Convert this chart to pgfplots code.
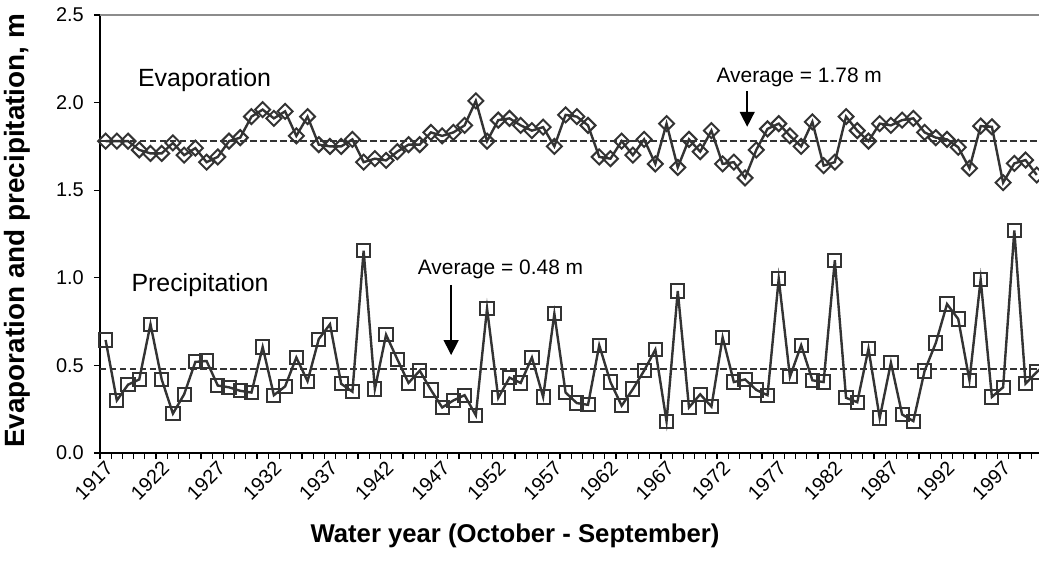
\documentclass[border=0pt]{standalone}
\usepackage{fontspec}
\setmainfont{Liberation Sans}
\usepackage{pgfplots}
\usepackage{pgfplotstable}
\pgfplotsset{compat=1.18}
\usetikzlibrary{arrows.meta}
\definecolor{ser}{HTML}{333333}
\definecolor{frame}{HTML}{8C8C8C}

\pgfplotstableread{
year evap
1917 1.78
1918 1.78
1919 1.78
1920 1.73
1921 1.71
1922 1.71
1923 1.77
1924 1.70
1925 1.74
1926 1.66
1927 1.69
1928 1.78
1929 1.80
1930 1.92
1931 1.96
1932 1.91
1933 1.95
1934 1.81
1935 1.92
1936 1.76
1937 1.75
1938 1.75
1939 1.79
1940 1.66
1941 1.68
1942 1.67
1943 1.72
1944 1.76
1945 1.76
1946 1.83
1947 1.81
1948 1.83
1949 1.87
1950 2.01
1951 1.78
1952 1.90
1953 1.91
1954 1.87
1955 1.84
1956 1.86
1957 1.75
1958 1.93
1959 1.92
1960 1.87
1961 1.69
1962 1.68
1963 1.78
1964 1.70
1965 1.79
1966 1.65
1967 1.88
1968 1.63
1969 1.79
1970 1.72
1971 1.84
1972 1.65
1973 1.66
1974 1.57
1975 1.73
1976 1.85
1977 1.88
1978 1.81
1979 1.75
1980 1.89
1981 1.64
1982 1.66
1983 1.92
1984 1.84
1985 1.78
1986 1.88
1987 1.87
1988 1.90
1989 1.91
1990 1.83
1991 1.80
1992 1.79
1993 1.745
1994 1.625
1995 1.866
1996 1.862
1997 1.543
1998 1.653
1999 1.672
2000 1.587
}\evaptable

\pgfplotstableread{
year precip
1917 0.645
1918 0.30
1919 0.39
1920 0.42
1921 0.735
1922 0.42
1923 0.225
1924 0.335
1925 0.52
1926 0.525
1927 0.385
1928 0.375
1929 0.355
1930 0.345
1931 0.605
1932 0.33
1933 0.38
1934 0.545
1935 0.41
1936 0.65
1937 0.735
1938 0.395
1939 0.35
1940 1.155
1941 0.365
1942 0.675
1943 0.535
1944 0.40
1945 0.47
1946 0.36
1947 0.26
1948 0.30
1949 0.33
1950 0.215
1951 0.825
1952 0.315
1953 0.43
1954 0.40
1955 0.545
1956 0.32
1957 0.795
1958 0.345
1959 0.285
1960 0.275
1961 0.615
1962 0.405
1963 0.27
1964 0.365
1965 0.47
1966 0.59
1967 0.18
1968 0.925
1969 0.26
1970 0.335
1971 0.265
1972 0.66
1973 0.405
1974 0.42
1975 0.36
1976 0.33
1977 0.995
1978 0.435
1979 0.615
1980 0.415
1981 0.405
1982 1.10
1983 0.315
1984 0.29
1985 0.595
1986 0.200
1987 0.515
1988 0.220
1989 0.182
1990 0.468
1991 0.628
1992 0.85
1993 0.765
1994 0.415
1995 0.99
1996 0.320
1997 0.375
1998 1.27
1999 0.396
2000 0.462
2001 0.52
}\preciptable

\begin{document}
\begin{tikzpicture}
\begin{axis}[
  at={(0,0)}, anchor=south west,
  scale only axis, width=939bp, height=438bp,
  xmin=1916.5, xmax=2000.2, ymin=0, ymax=2.5,
  axis x line*=bottom, axis y line*=left,
  axis line style={black, line width=1.5bp, -},
  tick align=outside,
  xtick={1917,1922,...,1997},
  minor xtick={1916.5,1917.5,...,2000.5},
  ytick={0,0.5,...,2.5},
  minor ytick={0,0.5,...,2.5},
  major tick length=0pt, minor tick length=6bp,
  tick style={black, line width=1.2bp},
  tick label style={font=\fontsize{20}{24}\selectfont},
  /pgf/number format/assume math mode=true,
  x tick label style={/pgf/number format/1000 sep={}, xshift=4bp, yshift=-12bp, rotate=45, anchor=east, inner sep=0pt},
  y tick label style={/pgf/number format/fixed, /pgf/number format/fixed zerofill, /pgf/number format/precision=1, anchor=east, inner sep=0pt, xshift=-16bp},
  xlabel={Water year (October - September)},
  ylabel={Evaporation and precipitation, m},
  xlabel style={font=\bfseries\fontsize{25.8}{30}\selectfont, at={(axis description cs:0.442,-0.2032)}, anchor=base},
  ylabel style={font=\bfseries\fontsize{28}{32}\selectfont, at={(axis description cs:-0.0799,0.507)}, anchor=base},
]
\addplot[ser, line width=1.8bp, dash pattern=on 6.5bp off 3.5bp] coordinates {(1916.5,1.78) (2000.2,1.78)};
\addplot[ser, line width=1.8bp, dash pattern=on 6.5bp off 3.5bp] coordinates {(1916.5,0.48) (2000.2,0.48)};
\addplot[ser, line width=2.4bp, mark=square, mark size=5.3bp, mark options={solid, rotate=45, fill=white, line width=2bp}] table[x=year, y=evap] {\evaptable};
\addplot[ser, line width=2.4bp, mark=square, mark size=6.6bp, mark options={solid, fill=white, line width=2bp}] table[x=year, y=precip] {\preciptable};

\node[font=\fontsize{25}{30}\selectfont, anchor=base] at (axis cs:1925.82,2.094) {Evaporation};
\node[font=\fontsize{25}{30}\selectfont, anchor=base] at (axis cs:1925.42,0.919) {Precipitation};
\node[font=\fontsize{21}{25}\selectfont, anchor=base] at (axis cs:1978.83,2.112) {Average = 1.78 m};
\node[font=\fontsize{21}{25}\selectfont, anchor=base] at (axis cs:1952.2,1.016) {Average = 0.48 m};
\draw[black, line width=1.5bp, -{Triangle[width=15bp, length=15bp]}] (axis cs:1974.19,2.064) -- (axis cs:1974.19,1.862);
\draw[black, line width=1.5bp, -{Triangle[width=15bp, length=15bp]}] (axis cs:1947.8,0.959) -- (axis cs:1947.8,0.559);
\end{axis}
\draw[frame, line width=2bp] (0,438bp) -- (939bp,438bp);
\pgfresetboundingbox
\useasboundingbox (-100bp,-114bp) rectangle (939bp,453bp);
\end{tikzpicture}
\end{document}
